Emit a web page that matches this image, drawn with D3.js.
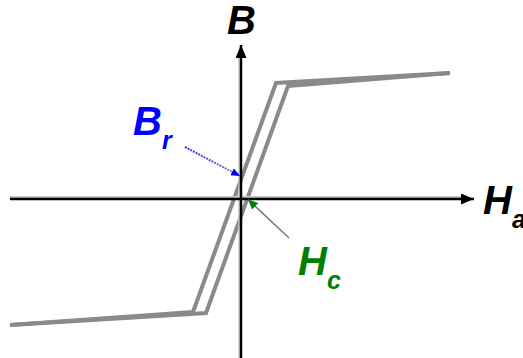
<!DOCTYPE html>
<html>
<head>
<meta charset="utf-8">
<script src="https://cdn.jsdelivr.net/npm/d3@7"></script>
<style>
  html, body { margin: 0; padding: 0; background: #fff; }
  svg { display: block; }
  text { font-family: "Liberation Sans", Arial, sans-serif; font-weight: bold; font-style: italic; }
</style>
</head>
<body>
<div id="chart"></div>
<script>
// hysteresis loop, arbitrary units (H across, B up)
var ascH = [-23.1, -3.5, 4.7, 20.9];
var ascB = [-12.6, -11.4, 11.3, 12.6];
var descH = [20.9, 3.5, -4.8, -23.1];
var descB = [12.6, 11.6, -11.3, -12.6];

// axis extents
var hAxisRange = [-23.1, 23.3];
var bAxisRange = [-16.5, 15.4];

// annotation arrows: [from, to]
var brArrowH = [-5.6, -0.1];
var brArrowB = [5.2, 2.3];
var hcArrowH = [4.8, 0.7];
var hcArrowB = [-3.9, -0.05];

// labels
var labelText = ["B", "H", "B", "H"];
var labelSub = ["", "a", "r", "c"];
var labelH = [-1.4, 24.2, -10.8, 5.7];
var labelB = [16.5, -1.5, 6.4, -7.6];
var labelColor = ["#000", "#000", "#0000ff", "#008000"];

var width = 523, height = 358;

var svg = d3.select("#chart").append("svg")
    .attr("width", width)
    .attr("height", height);

var x = d3.scaleLinear().domain([-24.1, 28.2]).range([0, width]);
var y = d3.scaleLinear().domain([19.9, -15.9]).range([0, height]);

var defs = svg.append("defs");

function marker(id, color, len, half) {
    defs.append("marker")
        .attr("id", id)
        .attr("markerUnits", "userSpaceOnUse")
        .attr("viewBox", "0 0 " + len + " " + (half * 2))
        .attr("refX", len)
        .attr("refY", half)
        .attr("markerWidth", len)
        .attr("markerHeight", half * 2)
        .attr("orient", "auto")
        .append("path")
        .attr("d", "M0,0L" + len + "," + half + "L0," + (half * 2) + "Z")
        .attr("fill", color);
}
marker("arrBlack", "#000", 13, 5.5);
marker("arrBlue", "#0000ff", 9, 4);
marker("arrGreen", "#008000", 10, 4.5);

var grad = defs.append("linearGradient")
    .attr("id", "brGrad")
    .attr("gradientUnits", "userSpaceOnUse")
    .attr("x1", x(brArrowH[0])).attr("y1", y(brArrowB[0]))
    .attr("x2", x(brArrowH[1])).attr("y2", y(brArrowB[1]));
grad.append("stop").attr("offset", "0%").attr("stop-color", "#2a2aff");
grad.append("stop").attr("offset", "100%").attr("stop-color", "#8a8a9a");

// axes with light shadow
var axes = svg.append("g");
axes.append("line")
    .attr("x1", x(hAxisRange[0])).attr("x2", x(hAxisRange[1]) - 10)
    .attr("y1", y(0) - 2).attr("y2", y(0) - 2)
    .attr("stroke", "#c8c8c8").attr("stroke-width", 2);
axes.append("line")
    .attr("x1", x(0) - 2).attr("x2", x(0) - 2)
    .attr("y1", y(bAxisRange[0])).attr("y2", y(bAxisRange[1]) + 10)
    .attr("stroke", "#c8c8c8").attr("stroke-width", 1.5);

// loop branches
var line = d3.line()
    .x(function(d) { return x(d[0]); })
    .y(function(d) { return y(d[1]); });

[[ascH, ascB], [descH, descB]].forEach(function(br) {
    svg.append("path")
        .datum(d3.zip(br[0], br[1]))
        .attr("d", line)
        .attr("fill", "none")
        .attr("stroke", "#8a8a8a")
        .attr("stroke-width", 4)
        .attr("stroke-linejoin", "miter");
});

axes.raise();
axes.append("line")
    .attr("x1", x(hAxisRange[0])).attr("x2", x(hAxisRange[1]))
    .attr("y1", y(0)).attr("y2", y(0))
    .attr("stroke", "#000").attr("stroke-width", 2.5)
    .attr("marker-end", "url(#arrBlack)");
axes.append("line")
    .attr("x1", x(0)).attr("x2", x(0))
    .attr("y1", y(bAxisRange[0])).attr("y2", y(bAxisRange[1]))
    .attr("stroke", "#000").attr("stroke-width", 2.5)
    .attr("marker-end", "url(#arrBlack)");

// annotation arrows
svg.append("line")
    .attr("x1", x(brArrowH[0])).attr("y1", y(brArrowB[0]))
    .attr("x2", x(brArrowH[1])).attr("y2", y(brArrowB[1]))
    .attr("stroke", "url(#brGrad)")
    .attr("stroke-width", 2)
    .attr("stroke-dasharray", "2,1")
    .attr("marker-end", "url(#arrBlue)");

svg.append("line")
    .attr("x1", x(hcArrowH[0])).attr("y1", y(hcArrowB[0]))
    .attr("x2", x(hcArrowH[1])).attr("y2", y(hcArrowB[1]))
    .attr("stroke", "#7a7a7a")
    .attr("stroke-width", 1.5)
    .attr("marker-end", "url(#arrGreen)");

// labels
labelText.forEach(function(t, i) {
    var txt = svg.append("text")
        .attr("x", x(labelH[i]))
        .attr("y", y(labelB[i]))
        .attr("fill", labelColor[i])
        .style("font-size", "40px")
        .text(t);
    if (labelSub[i]) {
        txt.append("tspan")
            .attr("dy", 14)
            .style("font-size", "25px")
            .text(labelSub[i]);
    }
});
</script>
</body>
</html>
